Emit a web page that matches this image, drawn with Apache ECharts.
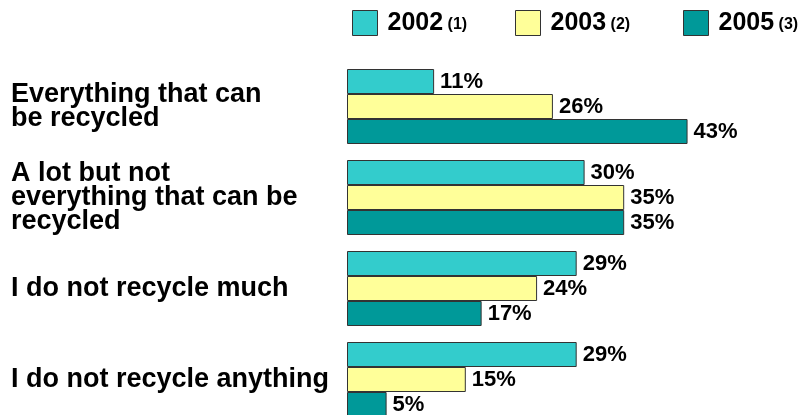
<!DOCTYPE html>
<html>
<head>
<meta charset="utf-8">
<script src="https://cdn.jsdelivr.net/npm/echarts@6/dist/echarts.min.js"></script>
<style>
  html, body { margin: 0; padding: 0; background: #fff; overflow: hidden; }
  #chart { width: 799px; height: 440px; }
</style>
</head>
<body>
<div id="chart"></div>
<script>
// Survey answers: how much household waste gets recycled
const categories = [
  'Everything that can\nbe recycled',
  'A lot but not\neverything that can be\nrecycled',
  'I do not recycle much',
  'I do not recycle anything'
];
const seriesNames = ['2002', '2003', '2005'];
const seriesNotes = ['(1)', '(2)', '(3)'];
const values2002 = [11, 30, 29, 29];
const values2003 = [26, 35, 24, 15];
const values2005 = [43, 35, 17, 5];
const seriesColors = ['#33CCCC', '#FFFF99', '#009999'];

const FONT = '"Liberation Sans", Arial, Helvetica, sans-serif';
const seriesValues = [values2002, values2003, values2005];

const chart = echarts.init(document.getElementById('chart'), null, { renderer: 'canvas' });

// one legend block per year so each key sits at its own spot
const legendLefts = [352, 515, 683];
const legends = seriesNames.map((name, i) => ({
  data: [name],
  left: legendLefts[i],
  top: 10,
  padding: 0,
  itemWidth: 25,
  itemHeight: 25,
  icon: 'rect',
  selectedMode: false,
  itemStyle: { borderColor: '#333', borderWidth: 1 },
  formatter: n => '{y|' + n + '}{n| ' + seriesNotes[i] + '}',
  textStyle: {
    padding: [0, 0, 0, 5],
    rich: {
      y: { fontFamily: FONT, fontWeight: 'bold', fontSize: 25, color: '#000' },
      n: { fontFamily: FONT, fontWeight: 'bold', fontSize: 16, color: '#000', padding: [4, 0, 0, 0] }
    }
  }
}));

const option = {
  animation: false,
  backgroundColor: '#fff',
  legend: legends,
  grid: { left: 347, top: 61, width: 396, height: 364, containLabel: false },
  xAxis: {
    type: 'value',
    min: 0,
    max: 50,
    show: false
  },
  yAxis: {
    type: 'category',
    data: categories,
    inverse: true,
    axisLine: { show: false },
    axisTick: { show: false },
    splitLine: { show: false },
    axisLabel: {
      align: 'left',
      margin: 336,
      padding: [6, 0, 0, 0],
      fontFamily: FONT,
      fontWeight: 'bold',
      fontSize: 27,
      lineHeight: 24,
      color: '#000'
    }
  },
  series: seriesNames.map((name, i) => ({
    name: name,
    type: 'bar',
    data: seriesValues[i],
    barWidth: 25,
    barGap: '0%',
    itemStyle: { color: seriesColors[i], borderColor: '#333', borderWidth: 1 },
    label: {
      show: true,
      position: 'right',
      distance: 6,
      formatter: '{c}%',
      fontFamily: FONT,
      fontWeight: 'bold',
      fontSize: 22,
      color: '#000'
    }
  }))
};

chart.setOption(option);
</script>
</body>
</html>
